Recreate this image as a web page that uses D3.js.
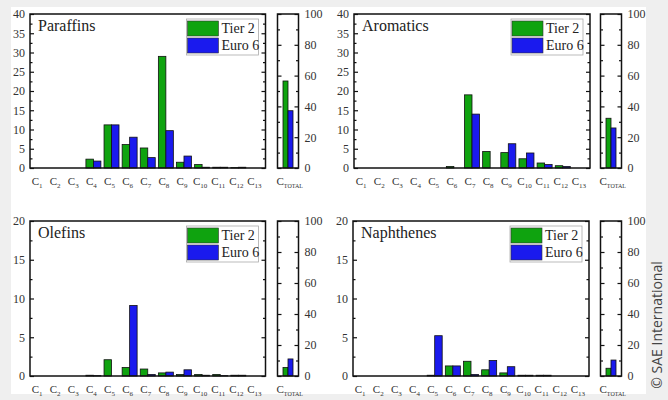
<!DOCTYPE html>
<html>
<head>
<meta charset="utf-8">
<script src="https://cdn.jsdelivr.net/npm/d3@7"></script>
<style>
  html, body { margin: 0; padding: 0; background: #efefef; }
  svg { display: block; }
</style>
</head>
<body>
<svg id="chart" width="668" height="400"></svg>
<script>
// carbon numbers on the x axis
var carbons = ["1", "2", "3", "4", "5", "6", "7", "8", "9", "10", "11", "12", "13"];
var seriesNames = ["Tier 2", "Euro 6"];
var seriesColors = ["#0fa30f", "#1a1aee"];

// percentages per carbon number
var paraffinsTier2 = [0, 0, 0, 2.3, 11.2, 6.1, 5.2, 29.0, 1.5, 0.9, 0.2, 0.1, 0];
var paraffinsEuro6 = [0, 0, 0, 1.8, 11.2, 8.0, 2.7, 9.7, 3.1, 0.2, 0.2, 0.2, 0];
var aromaticsTier2 = [0, 0, 0, 0, 0, 0.4, 19.0, 4.3, 4.0, 2.4, 1.3, 0.6, 0];
var aromaticsEuro6 = [0, 0, 0, 0, 0, 0, 14.0, 0, 6.3, 3.9, 0.9, 0.4, 0];
var olefinsTier2 = [0, 0, 0, 0.1, 2.1, 1.1, 0.9, 0.4, 0.2, 0.2, 0.2, 0.1, 0];
var olefinsEuro6 = [0, 0, 0, 0.05, 0, 9.1, 0.2, 0.5, 0.8, 0.1, 0.05, 0.1, 0];
var naphthenesTier2 = [0, 0, 0, 0, 0.1, 1.3, 1.9, 0.8, 0.4, 0.1, 0.1, 0, 0];
var naphthenesEuro6 = [0, 0, 0, 0, 5.2, 1.3, 0.2, 2.0, 1.2, 0.1, 0.1, 0, 0];

// totals (right axis, 0-100)
var paraffinsTotal = [56.5, 37.2];
var aromaticsTotal = [32.3, 26.0];
var olefinsTotal = [5.5, 11.0];
var naphthenesTotal = [5.0, 10.3];

var yMaxTop = 40, yMaxBottom = 20, yStep = 5, totalMax = 100, totalStep = 20;

var panels = [
    {title: "Paraffins", tier2: paraffinsTier2, euro6: paraffinsEuro6, total: paraffinsTotal,
     yMax: yMaxTop, left: 30, right: 265.5, top: 14, bottom: 168, sideLeft: 277.5, sideRight: 298.5},
    {title: "Aromatics", tier2: aromaticsTier2, euro6: aromaticsEuro6, total: aromaticsTotal,
     yMax: yMaxTop, left: 354, right: 590, top: 14, bottom: 168, sideLeft: 600.5, sideRight: 621.5},
    {title: "Olefins", tier2: olefinsTier2, euro6: olefinsEuro6, total: olefinsTotal,
     yMax: yMaxBottom, left: 30, right: 265.5, top: 221, bottom: 376, sideLeft: 277.5, sideRight: 298.5},
    {title: "Naphthenes", tier2: naphthenesTier2, euro6: naphthenesEuro6, total: naphthenesTotal,
     yMax: yMaxBottom, left: 353, right: 589, top: 221, bottom: 376, sideLeft: 600.5, sideRight: 621.5}
];

var serif = "'Liberation Serif', 'DejaVu Serif', serif";
var svg = d3.select("#chart");

// white card with grey frame around
svg.append("rect").attr("x", 0).attr("y", 0).attr("width", 668).attr("height", 400).attr("fill", "#efefef");
svg.append("rect").attr("x", 11).attr("y", 7).attr("width", 635).attr("height", 387).attr("fill", "#ffffff");

svg.append("text")
    .attr("transform", "translate(662,325) rotate(-90)")
    .attr("text-anchor", "middle")
    .attr("font-family", "'Open Sans', 'Noto Sans', sans-serif")
    .attr("font-size", 14)
    .attr("fill", "#444")
    .text("\u00a9 SAE International");

function noDomain(a) { a.select(".domain").remove(); }

function drawPanel(p) {
    var g = svg.append("g");

    var x = d3.scaleBand().domain(carbons).range([p.left, p.right]);
    var xs = d3.scaleBand().domain(seriesNames).range([0, x.bandwidth()]).paddingOuter(0.21);
    var y = d3.scaleLinear().domain([0, p.yMax]).range([p.bottom, p.top]);
    var side = d3.scaleBand().domain(seriesNames).range([p.sideLeft, p.sideRight]).paddingOuter(1.1);
    var yt = d3.scaleLinear().domain([0, totalMax]).range([p.bottom, p.top]);

    var rows = carbons.map(function(c, i) {
        return [{c: c, s: seriesNames[0], v: p.tier2[i]}, {c: c, s: seriesNames[1], v: p.euro6[i]}];
    });
    var bars = [].concat.apply([], rows).filter(function(d) { return d.v > 0; });

    g.selectAll("rect.bar").data(bars).enter()
        .append("rect")
        .attr("class", "bar")
        .attr("x", function(d) { return x(d.c) + xs(d.s); })
        .attr("width", xs.bandwidth())
        .attr("y", function(d) { return y(d.v); })
        .attr("height", function(d) { return y(0) - y(d.v); })
        .attr("fill", function(d) { return seriesColors[seriesNames.indexOf(d.s)]; })
        .attr("stroke", "#111")
        .attr("stroke-width", 0.8);

    g.selectAll("rect.total").data(p.total).enter()
        .append("rect")
        .attr("class", "total")
        .attr("x", function(d, i) { return side(seriesNames[i]); })
        .attr("width", side.bandwidth())
        .attr("y", function(d) { return yt(d); })
        .attr("height", function(d) { return yt(0) - yt(d); })
        .attr("fill", function(d, i) { return seriesColors[i]; })
        .attr("stroke", "#111")
        .attr("stroke-width", 0.8);

    var majors = d3.range(0, p.yMax + 0.01, yStep);
    var minors = d3.range(yStep / 2, p.yMax, yStep);

    // left axis with labels, ticks pointing inward
    g.append("g").attr("transform", "translate(" + p.left + ",0)")
        .call(d3.axisLeft(y).tickValues(majors).tickSize(-4).tickPadding(5).tickFormat(d3.format("d")))
        .call(noDomain);
    g.append("g").attr("transform", "translate(" + p.left + ",0)")
        .call(d3.axisLeft(y).tickValues(minors).tickSize(-2.5).tickFormat(""))
        .call(noDomain);
    g.append("g").attr("transform", "translate(" + p.right + ",0)")
        .call(d3.axisRight(y).tickValues(majors).tickSize(-4).tickFormat(""))
        .call(noDomain);
    g.append("g").attr("transform", "translate(" + p.right + ",0)")
        .call(d3.axisRight(y).tickValues(minors).tickSize(-2.5).tickFormat(""))
        .call(noDomain);

    // total panel axes
    var tMaj = d3.range(0, totalMax + 1, totalStep);
    var tMin = d3.range(totalStep / 2, totalMax, totalStep);
    g.append("g").attr("transform", "translate(" + p.sideLeft + ",0)")
        .call(d3.axisLeft(yt).tickValues(tMaj).tickSize(-4).tickFormat(""))
        .call(noDomain);
    g.append("g").attr("transform", "translate(" + p.sideLeft + ",0)")
        .call(d3.axisLeft(yt).tickValues(tMin).tickSize(-2.5).tickFormat(""))
        .call(noDomain);
    g.append("g").attr("transform", "translate(" + p.sideRight + ",0)")
        .call(d3.axisRight(yt).tickValues(tMaj).tickSize(-4).tickPadding(6).tickFormat(d3.format("d")))
        .call(noDomain);
    g.append("g").attr("transform", "translate(" + p.sideRight + ",0)")
        .call(d3.axisRight(yt).tickValues(tMin).tickSize(-2.5).tickFormat(""))
        .call(noDomain);

    g.selectAll(".tick line").attr("stroke", "#111").attr("stroke-width", 1.2);
    g.selectAll(".tick text")
        .style("font-family", serif)
        .attr("font-size", 12)
        .attr("fill", "#333");

    // frames
    g.append("rect").attr("x", p.left).attr("y", p.top)
        .attr("width", p.right - p.left).attr("height", p.bottom - p.top)
        .attr("fill", "none").attr("stroke", "#111").attr("stroke-width", 1.5);
    g.append("rect").attr("x", p.sideLeft).attr("y", p.top)
        .attr("width", p.sideRight - p.sideLeft).attr("height", p.bottom - p.top)
        .attr("fill", "none").attr("stroke", "#111").attr("stroke-width", 1.5);

    // x labels C with subscript
    var lab = g.selectAll("text.xlab").data(carbons).enter()
        .append("text")
        .attr("class", "xlab")
        .attr("x", function(d) { return x(d) + x.bandwidth() / 2 - 2; })
        .attr("y", p.bottom + 17)
        .attr("text-anchor", "middle")
        .attr("font-family", serif)
        .attr("font-size", 11)
        .attr("fill", "#333");
    lab.append("tspan").text("C");
    lab.append("tspan").attr("font-size", 7).attr("dy", 3).text(function(d) { return d; });

    var tl = g.append("text")
        .attr("x", p.sideLeft - 1)
        .attr("y", p.bottom + 17)
        .attr("font-family", serif)
        .attr("font-size", 11)
        .attr("fill", "#333");
    tl.append("tspan").text("C");
    tl.append("tspan").attr("font-size", 6).attr("dy", 3).text("TOTAL");

    // title
    g.append("text")
        .attr("x", p.left + 8)
        .attr("y", p.top + 17)
        .attr("font-family", serif)
        .attr("font-size", 16)
        .attr("fill", "#222")
        .text(p.title);

    // legend
    var lx = p.right - 79, ly = p.top + 5;
    var leg = g.append("g").attr("transform", "translate(" + lx + "," + ly + ")");
    leg.append("rect").attr("width", 72).attr("height", 36)
        .attr("fill", "#fff").attr("stroke", "#aaa").attr("stroke-width", 0.8);
    var items = leg.selectAll("g.item").data(seriesNames).enter()
        .append("g").attr("class", "item")
        .attr("transform", function(d, i) { return "translate(1," + (2 + i * 17) + ")"; });
    items.append("rect").attr("width", 31).attr("height", 15)
        .attr("fill", function(d, i) { return seriesColors[i]; })
        .attr("stroke", "#333").attr("stroke-width", 0.6);
    items.append("text").attr("x", 34).attr("y", 12)
        .attr("font-family", serif).attr("font-size", 14).attr("fill", "#222")
        .text(function(d) { return d; });
}

panels.forEach(drawPanel);
</script>
</body>
</html>
